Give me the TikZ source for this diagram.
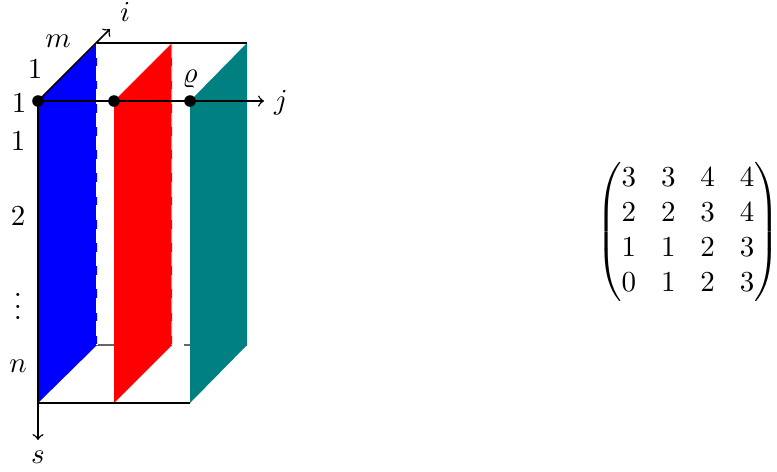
\documentclass[tikz,border=0pt]{standalone}
\usepackage{amsmath}
\begin{document}
\begin{tikzpicture}[x=0.345pt,y=-0.345pt,
  edge/.style={line width=0.5pt,draw=black},
  axis/.style={line width=0.5pt,->},
  hidden/.style={line width=0.5pt,draw=black!60,dashed,dash pattern=on 6pt off 4pt},
  dotn/.style={circle,fill=black,inner sep=0pt,minimum size=4pt},
  lab/.style={inner sep=0pt}]
\useasboundingbox (0,0) rectangle (777,471);
% corners
\coordinate (F1) at (38,101);  \coordinate (B1) at (97,43);
\coordinate (B1b) at (97,345); \coordinate (F1b) at (38,403);
\coordinate (F2) at (114,101); \coordinate (B2) at (172,43);
\coordinate (B2b) at (172,345); \coordinate (F2b) at (114,403);
\coordinate (F3) at (190,101); \coordinate (B3) at (247,43);
\coordinate (B3b) at (247,345); \coordinate (F3b) at (190,403);
\coordinate (Iend) at (110,29);
\coordinate (Jend) at (264,101);
\coordinate (Send) at (38,440);
% hidden back bottom edge
\draw[hidden] (B1b) -- (B3b);
% slices
\fill[blue] (F1) -- (B1) -- (B1b) -- (F1b) -- cycle;
\fill[red] (F2) -- (B2) -- (B2b) -- (F2b) -- cycle;
\fill[teal] (F3) -- (B3) -- (B3b) -- (F3b) -- cycle;
% hidden back vertical edges showing through
\draw[white,line width=0.5pt,dash pattern=on 5pt off 3pt] (B1) -- (B1b);
\draw[white,opacity=0.5,line width=0.5pt,dash pattern=on 5pt off 3pt] (B2) -- (B2b);
% box edges
\draw[edge] (B1) -- (B3);
\draw[edge] (F1b) -- (F3b);
% axes
\draw[axis] (F1) -- (Iend);
\draw[axis] (F1) -- (Jend);
\draw[axis] (F1) -- (Send);
% dots
\node[dotn] (d1) at (F1) {};
\node[dotn] (d2) at (F2) {};
\node[dotn] (d3) at (F3) {};
% labels
\node[lab] (li) at (125,12) {$i$};
\node[lab] (lj) at (281,103) {$j$};
\node[lab] (ls) at (38,457) {$s$};
\node[lab] (lm) at (58,41) {$m$};
\node[lab] (lrho) at (190,79) {$\varrho$};
\node[lab] (l1a) at (35,69) {$1$};
\node[lab] (l1b) at (19,103) {$1$};
\node[lab] (l1c) at (18,141) {$1$};
\node[lab] (l2) at (18,216) {$2$};
\node[lab] (ldots) at (18,298) {$\vdots$};
\node[lab] (ln) at (18,366) {$n$};
% matrix
\node[lab] (M) at (688,232) {$\setlength{\arraycolsep}{4.3pt}\begin{pmatrix}3&3&4&4\\2&2&3&4\\1&1&2&3\\0&1&2&3\end{pmatrix}$};
\end{tikzpicture}
\end{document}
